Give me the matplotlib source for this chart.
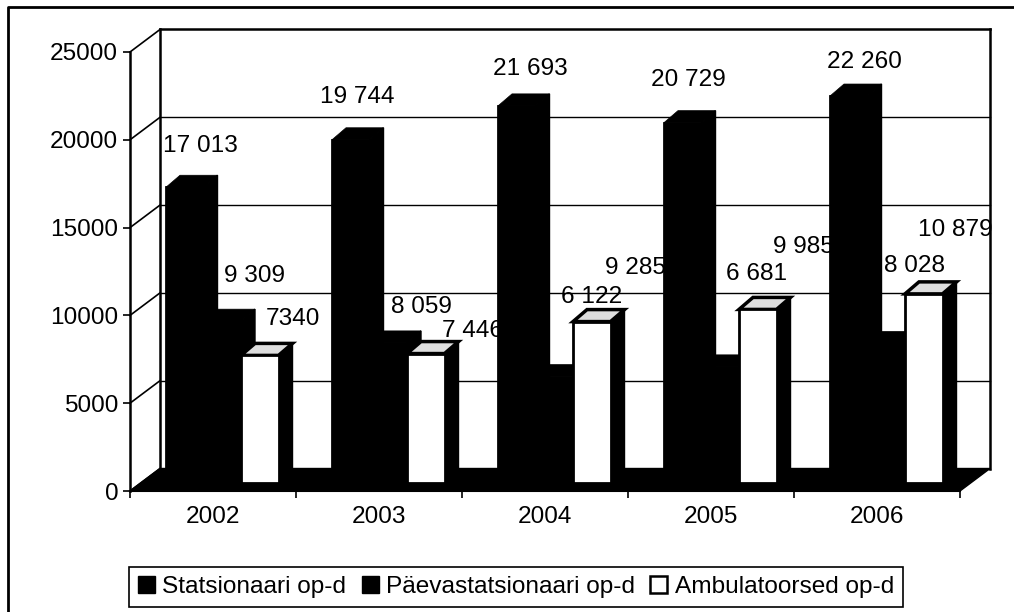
import matplotlib
matplotlib.use("Agg")
import matplotlib.pyplot as plt
from matplotlib.lines import Line2D
from matplotlib.patches import Patch

plt.rcParams["font.family"] = ["Liberation Sans", "DejaVu Sans"]

years = ["2002", "2003", "2004", "2005", "2006"]
statsionaari = [17013, 19744, 21693, 20729, 22260]
paevastatsionaari = [9309, 8059, 6122, 6681, 8028]
ambulatoorsed = [7340, 7446, 9285, 9985, 10879]
statsionaari_labels = ["17 013", "19 744", "21 693", "20 729", "22 260"]
paeva_labels = ["9 309", "8 059", "6 122", "6 681", "8 028"]
ambulatoorsed_labels = ["7340", "7 446", "9 285", "9 985", "10 879"]
series_names = ["Statsionaari op-d", "Päevastatsionaari op-d", "Ambulatoorsed op-d"]
y_ticks = [0, 5000, 10000, 15000, 20000, 25000]

W, H = 1014, 612
PX_X = 5 / 830       # category units per pixel
PX_Y = 25000 / 439   # value units per pixel
WALL_DX, WALL_DY = 30 * PX_X, 22.5 * PX_Y
BAR_START, BAR_W = 36 * PX_X, 37.5 * PX_X
BAR_BASE = 8 * PX_Y
DEPTH_X, DEPTH_Y = 14 * PX_X, 12 * PX_Y
BAR_SCALE = 0.99     # bars sit a bit deeper than the front plane

fig = plt.figure(figsize=(W / 100, H / 100), dpi=100)
# the frame is only there on the top and the left
fig.add_artist(Line2D([8 / W, 8 / W, 1], [0, 1 - 7 / H, 1 - 7 / H], color="black", linewidth=2))

ax = fig.add_axes([130 / W, 1 - 491 / H, 830 / W, 439 / H])
ax.set_xlim(0, 5)
ax.set_ylim(0, 25000)
ax.patch.set_visible(False)
for side in ["top", "right"]:
    ax.spines[side].set_visible(False)
ax.spines["left"].set_linewidth(1.8)
ax.spines["bottom"].set_linewidth(1.5)

# walls
for v in y_ticks:
    lw = 1.8 if v == 25000 else 1.0
    ax.plot([0, WALL_DX], [v, v + WALL_DY], color="black", lw=1.2, clip_on=False, zorder=1)
    ax.plot([WALL_DX, 5 + WALL_DX], [v + WALL_DY, v + WALL_DY], color="black", lw=lw,
            clip_on=False, zorder=1)
for x in [WALL_DX, 5 + WALL_DX]:
    ax.plot([x, x], [WALL_DY, 25000 + WALL_DY], color="black", lw=1.8, clip_on=False, zorder=1)
ax.fill([0, 5, 5 + WALL_DX, WALL_DX], [0, 0, WALL_DY, WALL_DY], color="black", clip_on=False, zorder=2)

values = [statsionaari, paevastatsionaari, ambulatoorsed]
labels = [statsionaari_labels, paeva_labels, ambulatoorsed_labels]
# label offsets from the back left top corner of each bar, pixels
label_dx = [[34, 25, 32, 24, 34], [51.5, 51.5, 56.5, 55.5, 47.5], [52, 65, 62, 64, 50]]
label_dy = [[29, 31, 25, 31, 22], [33, 24, 68, 81, 65], [24, 11, 42, 50, 52]]

for g in range(len(years)):
    z = 10 + g
    for s in range(3):
        x0 = g + BAR_START + s * BAR_W
        x1 = x0 + BAR_W
        h = values[s][g] * BAR_SCALE
        top = BAR_BASE + h
        face = "white" if s == 2 else "black"
        ax.fill([x1, x1 + DEPTH_X, x1 + DEPTH_X, x1],
                [BAR_BASE, BAR_BASE + DEPTH_Y, top + DEPTH_Y, top],
                color="black", clip_on=False, zorder=z)
        ax.fill([x0, x0 + DEPTH_X, x1 + DEPTH_X, x1],
                [top, top + DEPTH_Y, top + DEPTH_Y, top],
                facecolor="#dedede" if s == 2 else "black", edgecolor="black",
                linewidth=2.5 if s == 2 else 0.5, clip_on=False, zorder=z)
        ax.bar(x0, h, width=BAR_W, bottom=BAR_BASE, align="edge", color=face,
               edgecolor="black", linewidth=2, clip_on=False, zorder=z)
    # labels go after the group's bars, the next group then covers them
    for s in range(3):
        x0 = g + BAR_START + s * BAR_W
        top = BAR_BASE + values[s][g] * BAR_SCALE + DEPTH_Y
        ax.annotate(labels[s][g], xy=(x0, top),
                    xytext=(label_dx[s][g] * 0.72, label_dy[s][g] * 0.72), textcoords="offset points",
                    ha="center", va="center", fontsize=17.6, color="black",
                    annotation_clip=False, zorder=z)

ax.set_yticks(y_ticks)
ax.set_xticks(range(6))
ax.set_xticklabels([])
ax.set_xticks([i + 0.5 for i in range(5)], labels=years, minor=True)
ax.tick_params(axis="y", length=5, width=1.2, labelsize=17.6, pad=3.5)
ax.tick_params(axis="x", which="major", length=5, width=1.2)
ax.tick_params(axis="x", which="minor", length=0, labelsize=17.6, pad=10.5)

handles = [Patch(facecolor="black", edgecolor="black"),
           Patch(facecolor="black", edgecolor="black"),
           Patch(facecolor="white", edgecolor="black", linewidth=1.8)]
leg = fig.legend(handles, series_names, loc="center", bbox_to_anchor=(516 / W, 1 - 587 / H), ncol=3,
                 fontsize=17.6, fancybox=False, framealpha=1, edgecolor="black",
                 handlelength=0.7, handleheight=0.7, handletextpad=0.3, columnspacing=0.62,
                 borderpad=0.36, borderaxespad=0)
leg.get_frame().set_linewidth(1.2)

fig.savefig("out.png", dpi=100)
plt.close(fig)
